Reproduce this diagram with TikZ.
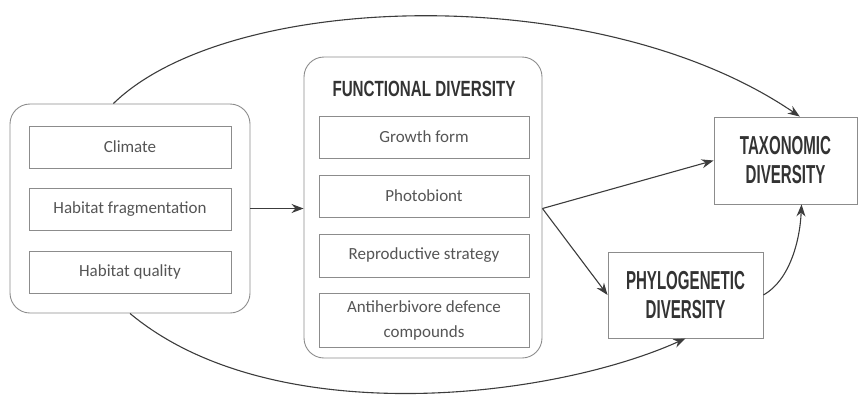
\documentclass[tikz,border=0pt]{standalone}
\usepackage{fontspec}
\usepackage{graphicx}
\setmainfont{Carlito}
\newfontfamily\ttlfont{Liberation Sans}
\usetikzlibrary{arrows.meta,calc}
\definecolor{boxgray}{HTML}{8C8C8C}
\definecolor{txtgray}{HTML}{555555}
\definecolor{ttlgray}{HTML}{333333}
\definecolor{arrgray}{HTML}{3C3C3C}
\newcommand\ttl[3]{\scalebox{#2}[1]{\fontsize{#1}{28}\selectfont\ttlfont\bfseries #3}}
\tikzset{
  outerbox/.style={draw=boxgray,line width=0.9pt,rounded corners=20pt,inner sep=0pt},
  innerbox/.style={draw=boxgray,line width=0.9pt,inner sep=0pt,minimum height=42pt,
    text=txtgray,font=\fontsize{17}{25}\selectfont,align=center},
  resbox/.style={draw=boxgray,line width=0.9pt,inner sep=0pt,text=ttlgray,align=center,
    font=\fontsize{26}{29}\selectfont},
  arr/.style={draw=arrgray,line width=1.1pt,-{Stealth[length=12pt,width=9pt]}}
}
\begin{document}
\begin{tikzpicture}[x=1pt,y=-1pt]
\useasboundingbox (0,0) rectangle (858,400);
% outer boxes
\node[outerbox,minimum width=240pt,minimum height=209pt] (env) at (130,208.5) {};
\node[outerbox,minimum width=238pt,minimum height=301pt] (func) at (423,207.5) {};
% left inner boxes
\node[innerbox,minimum width=202pt] (clim) at (130,147) {Climate};
\node[innerbox,minimum width=202pt] (frag) at (130,209) {Habitat fragmentation};
\node[innerbox,minimum width=202pt] (qual) at (130,272) {Habitat quality};
% functional diversity
\node[text=ttlgray,inner sep=0pt] (ftitle) at (424,89) {\ttl{22}{0.69}{FUNCTIONAL DIVERSITY}};
\node[innerbox,minimum width=210pt] (grow) at (424,137) {Growth form};
\node[innerbox,minimum width=210pt] (photo) at (424,196) {Photobiont};
\node[innerbox,minimum width=210pt,minimum height=43pt] (repro) at (424,255.5) {Reproductive strategy};
\node[innerbox,minimum width=210pt,minimum height=54pt] (anti) at (424,320) {Antiherbivore defence\\compounds};
% result boxes
\node[resbox,minimum width=143pt,minimum height=87pt] (tax) at (785.5,160.5) {\ttl{26}{0.58}{TAXONOMIC}\\\ttl{26}{0.58}{DIVERSITY}};
\node[resbox,minimum width=155pt,minimum height=86pt] (phylo) at (685.5,295) {\ttl{26}{0.58}{PHYLOGENETIC}\\\ttl{26}{0.58}{DIVERSITY}};
% connectors
\draw[arr] (env.east) -- (env.east -| func.west);
\coordinate (fs) at (func.east |- env.east);
\draw[arr] (fs) -- (tax.west);
\draw[arr] (fs) -- (phylo.west);
\draw[arr] (phylo.east) .. controls (790,280) and (800,240) .. (tax.290);
\draw[arr] (env.99) .. controls (230,-10) and (600,-20) .. (tax.72);
\draw[arr] (env.south) .. controls (272,432) and (551,399) .. (phylo.south);
\end{tikzpicture}
\end{document}
